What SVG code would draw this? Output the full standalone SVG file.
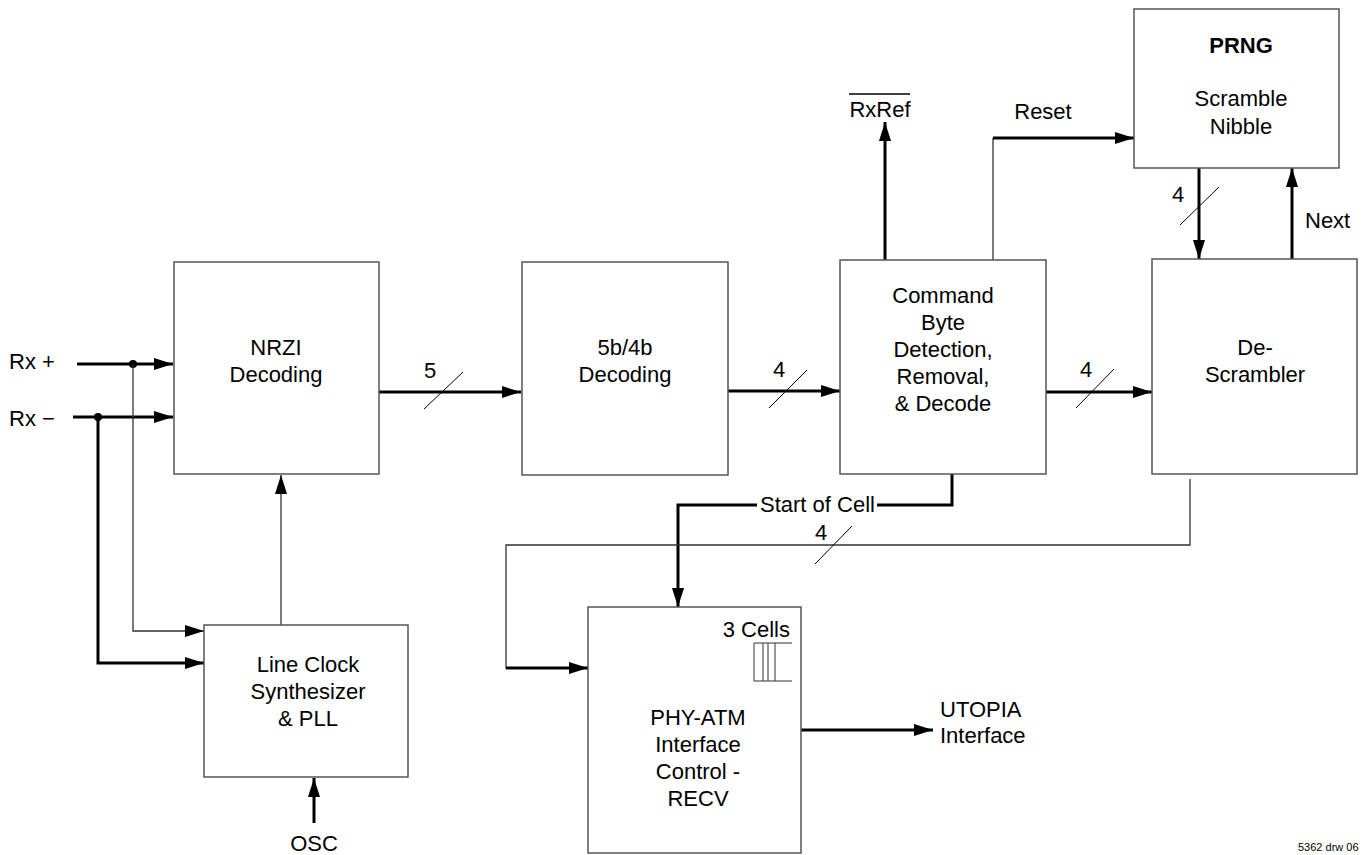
<svg xmlns="http://www.w3.org/2000/svg" width="1364" height="855" viewBox="0 0 1364 855">
<style>
  .box { fill: #fff; stroke: #555; stroke-width: 1.5; }
  .t { font-family: "Liberation Sans", Arial, sans-serif; font-size: 22px; fill: #000; }
  .c { text-anchor: middle; }
  .thick { fill: none; stroke: #000; stroke-width: 3; }
  .thin { fill: none; stroke: #333; stroke-width: 1.3; }
  .slash { stroke: #000; stroke-width: 1; }
  .arr { marker-end: url(#ah); }
</style>
<defs>
  <marker id="ah" markerUnits="userSpaceOnUse" markerWidth="19" markerHeight="12" refX="19" refY="6" orient="auto">
    <path d="M0,0 L19,6 L0,12 z" fill="#000"/>
  </marker>
</defs>
<rect width="1364" height="855" fill="#fff"/>

<g id="connectors">
  <!-- Rx inputs -->
  <path class="thick arr" d="M77,364 H173"/>
  <path class="thick arr" d="M73,417 H173"/>
  <circle cx="133" cy="364" r="4" fill="#000"/>
  <circle cx="98" cy="417" r="4" fill="#000"/>
  <path class="thin arr" d="M133,364 V631 H204"/>
  <path class="thick arr" d="M98,417 V663 H204"/>
  <!-- clock to NRZI -->
  <path class="thin arr" d="M281,625 V475"/>
  <!-- OSC -->
  <path class="thick arr" d="M314,823 V778"/>
  <!-- NRZI -> 5b/4b -->
  <path class="thick arr" d="M379,392 H521"/>
  <line class="slash" x1="424" y1="409" x2="463" y2="372"/>
  <!-- 5b/4b -> Command -->
  <path class="thick arr" d="M728,391 H840"/>
  <line class="slash" x1="769" y1="408" x2="807" y2="370"/>
  <!-- Command -> DeScrambler -->
  <path class="thick arr" d="M1046,392 H1152"/>
  <line class="slash" x1="1076" y1="408" x2="1114" y2="369"/>
  <!-- RxRef -->
  <path class="thick arr" d="M885,260 V122"/>
  <!-- Reset -->
  <path class="thin" d="M993,260 V138"/>
  <path class="thick arr" d="M993,138 H1134"/>
  <!-- PRNG -> DeScrambler -->
  <path class="thick arr" d="M1199,168 V259"/>
  <line class="slash" x1="1180" y1="225" x2="1219" y2="187"/>
  <!-- Next -->
  <path class="thick arr" d="M1292,259 V168"/>
  <!-- Start of Cell -->
  <path class="thick" d="M952,474 V505 H877"/>
  <path class="thick arr" d="M757,505 H678 V607"/>
  <!-- DeScrambler data to PHY -->
  <path class="thin" d="M1190,479 V545 H506 V668 H520"/>
  <path class="thick arr" d="M506,668 H588"/>
  <line class="slash" x1="815" y1="564" x2="852" y2="526"/>
  <!-- PHY -> UTOPIA -->
  <path class="thick arr" d="M801,730 H933"/>
</g>

<g id="nrzi">
  <rect class="box" x="174" y="262" width="205" height="212"/>
  <text class="t c" x="276" y="355">NRZI</text>
  <text class="t c" x="276" y="382">Decoding</text>
</g>
<g id="dec5b4b">
  <rect class="box" x="522" y="262" width="206" height="213"/>
  <text class="t c" x="625" y="355">5b/4b</text>
  <text class="t c" x="625" y="382">Decoding</text>
</g>
<g id="command">
  <rect class="box" x="840" y="260" width="206" height="214"/>
  <text class="t c" x="943" y="303">Command</text>
  <text class="t c" x="943" y="330">Byte</text>
  <text class="t c" x="943" y="357">Detection,</text>
  <text class="t c" x="943" y="384">Removal,</text>
  <text class="t c" x="943" y="411">&amp; Decode</text>
</g>
<g id="descrambler">
  <rect class="box" x="1152" y="259" width="205" height="215"/>
  <text class="t c" x="1255" y="355">De-</text>
  <text class="t c" x="1255" y="382">Scrambler</text>
</g>
<g id="prng">
  <rect class="box" x="1134" y="9" width="205" height="159"/>
  <text class="t c" x="1241" y="53" font-weight="bold">PRNG</text>
  <text class="t c" x="1241" y="106">Scramble</text>
  <text class="t c" x="1241" y="134">Nibble</text>
</g>
<g id="lineclock">
  <rect class="box" x="204" y="625" width="204" height="152"/>
  <text class="t c" x="308" y="672">Line Clock</text>
  <text class="t c" x="308" y="699">Synthesizer</text>
  <text class="t c" x="308" y="726">&amp; PLL</text>
</g>
<g id="phyatm">
  <rect class="box" x="588" y="607" width="213" height="246"/>
  <text class="t" x="790" y="637" text-anchor="end">3 Cells</text>
  <path d="M792,643 H754 V681 H792 M763,643 V681 M768,643 V681 M775,643 V681" fill="none" stroke="#333" stroke-width="1"/>
  <text class="t c" x="698" y="725">PHY-ATM</text>
  <text class="t c" x="698" y="752">Interface</text>
  <text class="t c" x="698" y="779">Control -</text>
  <text class="t c" x="698" y="806">RECV</text>
</g>

<g id="labels">
  <text class="t" x="9" y="369">Rx +</text>
  <text class="t" x="9" y="426">Rx −</text>
  <text class="t c" x="314" y="851">OSC</text>
  <text class="t c" x="430" y="378">5</text>
  <text class="t c" x="779" y="377">4</text>
  <text class="t c" x="1086" y="377">4</text>
  <text class="t c" x="1178" y="202">4</text>
  <text class="t c" x="821" y="540">4</text>
  <text class="t c" x="880" y="117">RxRef</text>
  <line x1="849" y1="94" x2="910" y2="94" stroke="#000" stroke-width="1.5"/>
  <text class="t c" x="1043" y="119">Reset</text>
  <text class="t" x="1305" y="228">Next</text>
  <text class="t" x="760" y="512">Start of Cell</text>
  <text class="t" x="940" y="717">UTOPIA</text>
  <text class="t" x="940" y="743">Interface</text>
  <text x="1298" y="851" font-family="Liberation Sans, Arial, sans-serif" font-size="11" fill="#000">5362 drw 06</text>
</g>
</svg>
